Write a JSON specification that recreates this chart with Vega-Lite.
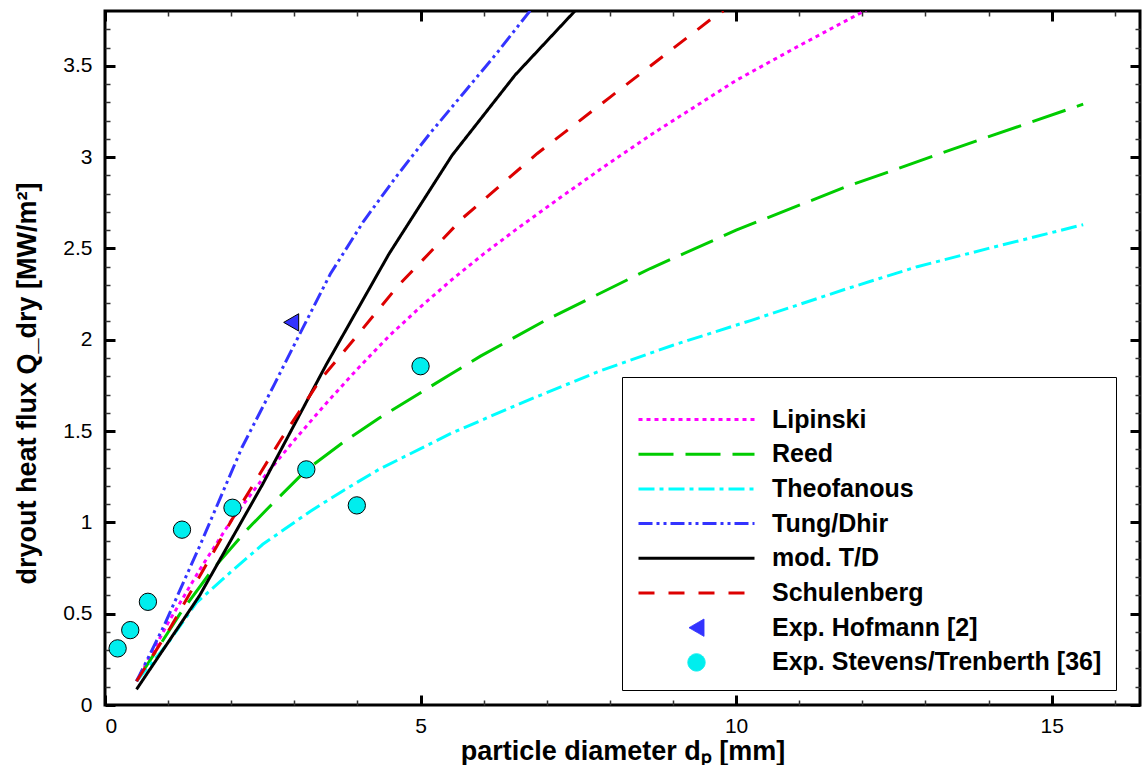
{
  "$schema": "https://vega.github.io/schema/vega-lite/v6.json",
  "width": 1035,
  "height": 694,
  "autosize": {"type": "none"},
  "padding": {"left": 105, "top": 11, "right": 6, "bottom": 60},
  "background": "white",
  "config": {
    "view": {"stroke": "black", "strokeWidth": 3},
    "font": "Liberation Sans",
    "axis": {
      "grid": false,
      "domain": false,
      "labelFont": "Liberation Sans",
      "labelFontSize": 21,
      "labelColor": "black",
      "titleFont": "Liberation Sans",
      "titleFontSize": 27,
      "titleFontWeight": "bold",
      "titleColor": "black",
      "tickColor": "black"
    }
  },
  "datasets": {
    "curves": [
      {"series": "Lipinski", "d": 0.5, "q": 0.13},
      {"series": "Lipinski", "d": 1.0, "q": 0.45},
      {"series": "Lipinski", "d": 1.5, "q": 0.74},
      {"series": "Lipinski", "d": 2.0, "q": 1.01},
      {"series": "Lipinski", "d": 2.5, "q": 1.24},
      {"series": "Lipinski", "d": 3.0, "q": 1.45},
      {"series": "Lipinski", "d": 3.5, "q": 1.65},
      {"series": "Lipinski", "d": 4.0, "q": 1.84},
      {"series": "Lipinski", "d": 4.5, "q": 2.02},
      {"series": "Lipinski", "d": 5.0, "q": 2.18},
      {"series": "Lipinski", "d": 5.5, "q": 2.33},
      {"series": "Lipinski", "d": 6.0, "q": 2.47},
      {"series": "Lipinski", "d": 6.5, "q": 2.6},
      {"series": "Lipinski", "d": 7.22, "q": 2.78},
      {"series": "Lipinski", "d": 8.0, "q": 2.97},
      {"series": "Lipinski", "d": 8.64, "q": 3.12},
      {"series": "Lipinski", "d": 10.0, "q": 3.42},
      {"series": "Lipinski", "d": 11.0, "q": 3.61},
      {"series": "Lipinski", "d": 11.76, "q": 3.75},
      {"series": "Lipinski", "d": 12.3, "q": 3.85},

      {"series": "Reed", "d": 0.5, "q": 0.13},
      {"series": "Reed", "d": 1.19, "q": 0.5},
      {"series": "Reed", "d": 1.7, "q": 0.74},
      {"series": "Reed", "d": 2.25, "q": 0.96},
      {"series": "Reed", "d": 2.59, "q": 1.08},
      {"series": "Reed", "d": 3.2, "q": 1.29},
      {"series": "Reed", "d": 3.78, "q": 1.44},
      {"series": "Reed", "d": 4.34, "q": 1.57},
      {"series": "Reed", "d": 5.47, "q": 1.81},
      {"series": "Reed", "d": 5.95, "q": 1.91},
      {"series": "Reed", "d": 7.0, "q": 2.11},
      {"series": "Reed", "d": 8.64, "q": 2.39},
      {"series": "Reed", "d": 10.0, "q": 2.6},
      {"series": "Reed", "d": 11.76, "q": 2.84},
      {"series": "Reed", "d": 12.34, "q": 2.91},
      {"series": "Reed", "d": 13.4, "q": 3.04},
      {"series": "Reed", "d": 15.5, "q": 3.29},

      {"series": "Theofanous", "d": 0.5, "q": 0.13},
      {"series": "Theofanous", "d": 1.0, "q": 0.34},
      {"series": "Theofanous", "d": 1.45, "q": 0.56},
      {"series": "Theofanous", "d": 2.0, "q": 0.73},
      {"series": "Theofanous", "d": 2.5, "q": 0.88},
      {"series": "Theofanous", "d": 3.25, "q": 1.06},
      {"series": "Theofanous", "d": 3.78, "q": 1.175},
      {"series": "Theofanous", "d": 4.34, "q": 1.29},
      {"series": "Theofanous", "d": 5.5, "q": 1.49},
      {"series": "Theofanous", "d": 6.69, "q": 1.667},
      {"series": "Theofanous", "d": 7.85, "q": 1.83},
      {"series": "Theofanous", "d": 9.0, "q": 1.97},
      {"series": "Theofanous", "d": 10.23, "q": 2.105},
      {"series": "Theofanous", "d": 11.76, "q": 2.28},
      {"series": "Theofanous", "d": 12.87, "q": 2.4},
      {"series": "Theofanous", "d": 14.0, "q": 2.5},
      {"series": "Theofanous", "d": 15.5, "q": 2.63},

      {"series": "Tung/Dhir", "d": 0.5, "q": 0.13},
      {"series": "Tung/Dhir", "d": 0.93, "q": 0.43},
      {"series": "Tung/Dhir", "d": 1.5, "q": 0.87},
      {"series": "Tung/Dhir", "d": 2.17, "q": 1.41},
      {"series": "Tung/Dhir", "d": 2.69, "q": 1.76},
      {"series": "Tung/Dhir", "d": 3.04, "q": 2.0},
      {"series": "Tung/Dhir", "d": 3.57, "q": 2.36},
      {"series": "Tung/Dhir", "d": 4.1, "q": 2.65},
      {"series": "Tung/Dhir", "d": 4.63, "q": 2.9},
      {"series": "Tung/Dhir", "d": 5.15, "q": 3.13},
      {"series": "Tung/Dhir", "d": 5.68, "q": 3.35},
      {"series": "Tung/Dhir", "d": 6.21, "q": 3.57},
      {"series": "Tung/Dhir", "d": 6.71, "q": 3.79},
      {"series": "Tung/Dhir", "d": 6.8, "q": 3.83},

      {"series": "mod. T/D", "d": 0.5, "q": 0.086},
      {"series": "mod. T/D", "d": 1.5, "q": 0.6},
      {"series": "mod. T/D", "d": 2.5, "q": 1.21},
      {"series": "mod. T/D", "d": 3.5, "q": 1.86},
      {"series": "mod. T/D", "d": 4.5, "q": 2.47},
      {"series": "mod. T/D", "d": 5.5, "q": 3.01},
      {"series": "mod. T/D", "d": 6.5, "q": 3.45},
      {"series": "mod. T/D", "d": 7.5, "q": 3.82},

      {"series": "Schulenberg", "d": 0.5, "q": 0.13},
      {"series": "Schulenberg", "d": 1.03, "q": 0.42},
      {"series": "Schulenberg", "d": 2.02, "q": 1.02},
      {"series": "Schulenberg", "d": 2.78, "q": 1.45},
      {"series": "Schulenberg", "d": 3.41, "q": 1.78},
      {"series": "Schulenberg", "d": 3.94, "q": 2.0},
      {"series": "Schulenberg", "d": 4.63, "q": 2.29},
      {"series": "Schulenberg", "d": 5.68, "q": 2.67},
      {"series": "Schulenberg", "d": 6.85, "q": 3.02},
      {"series": "Schulenberg", "d": 8.01, "q": 3.33},
      {"series": "Schulenberg", "d": 9.62, "q": 3.76},
      {"series": "Schulenberg", "d": 9.8, "q": 3.8}
    ],
    "points": [
      {"series": "Exp. Hofmann [2]", "d": 2.95, "q": 2.095},
      {"series": "Exp. Stevens/Trenberth [36]", "d": 0.2, "q": 0.31},
      {"series": "Exp. Stevens/Trenberth [36]", "d": 0.4, "q": 0.41},
      {"series": "Exp. Stevens/Trenberth [36]", "d": 0.68, "q": 0.565},
      {"series": "Exp. Stevens/Trenberth [36]", "d": 1.22, "q": 0.96},
      {"series": "Exp. Stevens/Trenberth [36]", "d": 2.02, "q": 1.08},
      {"series": "Exp. Stevens/Trenberth [36]", "d": 3.19, "q": 1.29},
      {"series": "Exp. Stevens/Trenberth [36]", "d": 3.99, "q": 1.093},
      {"series": "Exp. Stevens/Trenberth [36]", "d": 5.0, "q": 1.855}
    ]
  },
  "layer": [
    {
      "data": {"name": "curves"},
      "mark": {"type": "line", "strokeWidth": 3, "clip": true},
      "encoding": {
        "x": {
          "field": "d", "type": "quantitative",
          "scale": {"domain": [0, 16.4], "nice": false, "zero": false},
          "axis": {"orient": "bottom", "values": [0, 5, 10, 15], "format": "~g", "title": "particle diameter  dₚ [mm]", "tickSize": -10, "tickWidth": 3, "labelPadding": 20, "titlePadding": 2}
        },
        "y": {
          "field": "q", "type": "quantitative",
          "scale": {"domain": [0, 3.8], "nice": false, "zero": false},
          "axis": {"orient": "left", "values": [0, 0.5, 1, 1.5, 2, 2.5, 3, 3.5], "format": "~g", "title": "dryout heat flux  Q_dry [MW/m²]", "tickSize": -10, "tickWidth": 3, "labelPadding": 23, "titlePadding": 21, "titleY": 372}
        },
        "color": {
          "field": "series", "type": "nominal",
          "scale": {
            "domain": ["Lipinski", "Reed", "Theofanous", "Tung/Dhir", "mod. T/D", "Schulenberg", "Exp. Hofmann [2]", "Exp. Stevens/Trenberth [36]"],
            "range": ["#ff00ff", "#00cc00", "#00ffff", "#3333ff", "#000000", "#dd0000", "#3333ff", "#00eeee"]
          },
          "legend": {
            "orient": "none",
            "legendX": 517,
            "legendY": 366,
            "title": " ",
            "titleFontSize": 12,
            "titlePadding": 4,
            "padding": 14,
            "strokeColor": "black",
            "fillColor": "white",
            "cornerRadius": 0,
            "symbolType": "stroke",
            "symbolSize": 400,
            "symbolStrokeWidth": 3,
            "symbolOffset": 48,
            "labelFont": "Liberation Sans",
            "labelFontSize": 25,
            "labelFontWeight": "bold",
            "labelColor": "black",
            "labelOffset": 63,
            "labelLimit": 500,
            "rowPadding": 8.7,
            "encode": {
              "symbols": {
                "update": {
                  "shape": {"signal": "datum.value === 'Exp. Hofmann [2]' ? 'triangle-left' : datum.value === 'Exp. Stevens/Trenberth [36]' ? 'circle' : 'stroke'"},
                  "size": {"signal": "(datum.value === 'Exp. Hofmann [2]' || datum.value === 'Exp. Stevens/Trenberth [36]') ? 300 : 13456"},
                  "fill": {"signal": "(datum.value === 'Exp. Hofmann [2]' || datum.value === 'Exp. Stevens/Trenberth [36]') ? scale('color', datum.value) : 'transparent'"},
                  "stroke": {"signal": "(datum.value === 'Exp. Hofmann [2]' || datum.value === 'Exp. Stevens/Trenberth [36]') ? 'black' : scale('color', datum.value)"},
                  "strokeWidth": {"signal": "(datum.value === 'Exp. Hofmann [2]' || datum.value === 'Exp. Stevens/Trenberth [36]') ? 1 : 3"},
                  "strokeDash": {"signal": "datum.value === 'Lipinski' ? [4,4] : datum.value === 'Reed' ? [35,12] : datum.value === 'Theofanous' ? [16,5,4,5] : datum.value === 'Tung/Dhir' ? [14,4,3,4,3,4] : datum.value === 'Schulenberg' ? [16,14] : [1,0]"},
                  "opacity": {"value": 1}
                }
              }
            }
          }
        },
        "strokeDash": {
          "field": "series", "type": "nominal",
          "scale": {
            "domain": ["Lipinski", "Reed", "Theofanous", "Tung/Dhir", "mod. T/D", "Schulenberg"],
            "range": [[4, 4], [35, 12], [16, 5, 4, 5], [14, 4, 3, 4, 3, 4], [1, 0], [16, 14]]
          },
          "legend": null
        }
      }
    },
    {
      "data": {"name": "points"},
      "mark": {"type": "point", "filled": true, "stroke": "black", "strokeWidth": 1, "opacity": 1, "size": 300},
      "encoding": {
        "x": {
          "field": "d", "type": "quantitative",
          "axis": {"orient": "bottom", "values": [1, 2, 3, 4, 6, 7, 8, 9, 11, 12, 13, 14, 16], "labels": false, "title": null, "tickSize": -5, "tickWidth": 1.5, "tickColor": "#333333"}
        },
        "y": {
          "field": "q", "type": "quantitative",
          "axis": {"orient": "left", "values": [0.1, 0.2, 0.3, 0.4, 0.6, 0.7, 0.8, 0.9, 1.1, 1.2, 1.3, 1.4, 1.6, 1.7, 1.8, 1.9, 2.1, 2.2, 2.3, 2.4, 2.6, 2.7, 2.8, 2.9, 3.1, 3.2, 3.3, 3.4, 3.6, 3.7], "labels": false, "title": null, "tickSize": -5, "tickWidth": 1.5, "tickColor": "#333333"}
        },
        "color": {"field": "series", "type": "nominal"},
        "shape": {
          "field": "series", "type": "nominal",
          "scale": {"domain": ["Exp. Hofmann [2]", "Exp. Stevens/Trenberth [36]"], "range": ["triangle-left", "circle"]},
          "legend": null
        }
      }
    },
    {
      "data": {"name": "points"},
      "mark": {"type": "point", "opacity": 0},
      "encoding": {
        "x": {
          "field": "d", "type": "quantitative",
          "axis": {"orient": "top", "values": [0, 5, 10, 15], "labels": false, "title": null, "tickSize": -10, "tickWidth": 3}
        },
        "y": {
          "field": "q", "type": "quantitative",
          "axis": {"orient": "right", "values": [0, 0.5, 1, 1.5, 2, 2.5, 3, 3.5], "labels": false, "title": null, "tickSize": -10, "tickWidth": 3}
        }
      }
    },
    {
      "data": {"name": "points"},
      "mark": {"type": "point", "opacity": 0},
      "encoding": {
        "x": {
          "field": "d", "type": "quantitative",
          "axis": {"orient": "top", "values": [1, 2, 3, 4, 6, 7, 8, 9, 11, 12, 13, 14, 16], "labels": false, "title": null, "tickSize": -5, "tickWidth": 1.5, "tickColor": "#333333"}
        },
        "y": {
          "field": "q", "type": "quantitative",
          "axis": {"orient": "right", "values": [0.1, 0.2, 0.3, 0.4, 0.6, 0.7, 0.8, 0.9, 1.1, 1.2, 1.3, 1.4, 1.6, 1.7, 1.8, 1.9, 2.1, 2.2, 2.3, 2.4, 2.6, 2.7, 2.8, 2.9, 3.1, 3.2, 3.3, 3.4, 3.6, 3.7], "labels": false, "title": null, "tickSize": -5, "tickWidth": 1.5, "tickColor": "#333333"}
        }
      }
    }
  ],
  "resolve": {"axis": {"x": "independent", "y": "independent"}}
}
